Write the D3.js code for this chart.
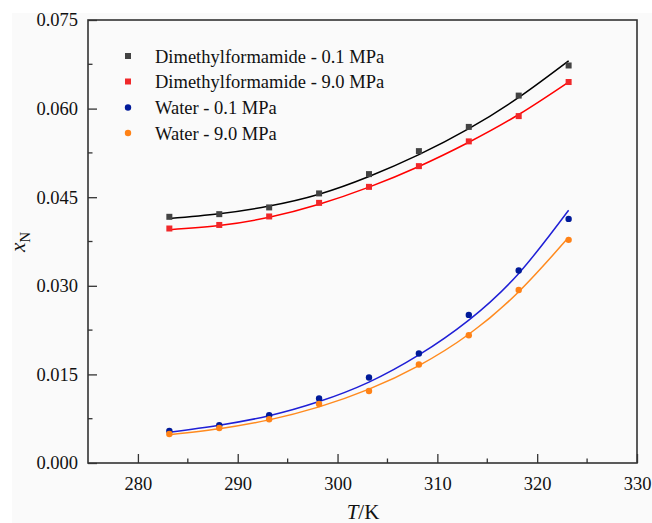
<!DOCTYPE html>
<html>
<head>
<meta charset="utf-8">
<script src="https://cdn.jsdelivr.net/npm/d3@7"></script>
<style>
  body { margin: 0; background: #ffffff; }
  svg { display: block; font-family: "Liberation Serif", "Times New Roman", serif; }
</style>
</head>
<body>
<svg id="chart" width="652" height="523"></svg>
<script>
// ---- data ----
const temperatures = [283.15, 288.15, 293.15, 298.15, 303.15, 308.15, 313.15, 318.15, 323.15];
const dmf01 = [0.04168, 0.04213, 0.04327, 0.04564, 0.04891, 0.0528, 0.0569, 0.0622, 0.0673];
const dmf90 = [0.0397, 0.0403, 0.04174, 0.04404, 0.04675, 0.05026, 0.05445, 0.05873, 0.0645];
const water01 = [0.00542, 0.00639, 0.00808, 0.01091, 0.01447, 0.01853, 0.02507, 0.0326, 0.04133];
const water90 = [0.00491, 0.00593, 0.0074, 0.0100, 0.0122, 0.01667, 0.02163, 0.0293, 0.03778];
// fitted curves
const dmf01Fit = [0.0414, 0.0422, 0.0435, 0.0455, 0.0485, 0.0522, 0.0566, 0.0619, 0.0681];
const dmf90Fit = [0.0395, 0.0402, 0.0416, 0.0438, 0.0467, 0.0502, 0.0543, 0.0590, 0.0645];
const water01Fit = [0.0052, 0.0064, 0.0080, 0.0104, 0.0137, 0.0183, 0.0242, 0.0321, 0.0428];
const water90Fit = [0.0048, 0.0058, 0.0073, 0.0095, 0.0125, 0.0165, 0.0218, 0.0290, 0.0382];
const seriesNames = ["Dimethylformamide - 0.1 MPa", "Dimethylformamide - 9.0 MPa", "Water - 0.1 MPa", "Water - 9.0 MPa"];
const xTicks = [280, 290, 300, 310, 320, 330];
const yTicks = [0.000, 0.015, 0.030, 0.045, 0.060, 0.075];

const series = [
  { name: seriesNames[0], pts: dmf01, fit: dmf01Fit, shape: "square", marker: "#434343", line: "#000000" },
  { name: seriesNames[1], pts: dmf90, fit: dmf90Fit, shape: "square", marker: "#f0282a", line: "#ff0000" },
  { name: seriesNames[2], pts: water01, fit: water01Fit, shape: "circle", marker: "#001a99", line: "#1f1fd6" },
  { name: seriesNames[3], pts: water90, fit: water90Fit, shape: "circle", marker: "#ff8216", line: "#ff8a1e" }
];

const svg = d3.select("#chart");
svg.append("rect").attr("x", 12).attr("y", 13).attr("width", 640).attr("height", 510).attr("fill", "#fafafa");

const L = 88, R = 637, T = 20, B = 463;
const x = d3.scaleLinear().domain([275, 330]).range([L, R]);
const y = d3.scaleLinear().domain([0, 0.075]).range([B, T]);

const axisColor = "#333333";

// fitted lines
const lineGen = d3.line().x((d, i) => x(temperatures[i])).y(d => y(d)).curve(d3.curveNatural);
series.forEach(s => {
  svg.append("path").attr("d", lineGen(s.fit)).attr("fill", "none")
    .attr("stroke", s.line).attr("stroke-width", 1.5);
});

// markers
function drawMarker(g, shape, color, cx, cy) {
  if (shape === "square") {
    g.append("rect").attr("x", cx - 3).attr("y", cy - 3).attr("width", 6).attr("height", 6).attr("fill", color);
  } else {
    g.append("circle").attr("cx", cx).attr("cy", cy).attr("r", 3.2).attr("fill", color);
  }
}
series.forEach(s => {
  const g = svg.append("g");
  s.pts.forEach((v, i) => drawMarker(g, s.shape, s.marker, x(temperatures[i]), y(v)));
});

// frame
svg.append("rect").attr("x", L).attr("y", T).attr("width", R - L).attr("height", B - T)
  .attr("fill", "none").attr("stroke", axisColor).attr("stroke-width", 1.6);

// x axis
const xAxis = d3.axisBottom(x).tickValues(xTicks).tickSize(-9).tickPadding(14).tickFormat(d3.format("d"));
const gx = svg.append("g").attr("transform", `translate(0,${B})`).call(xAxis);
gx.select(".domain").remove();
gx.selectAll(".tick line").attr("stroke", axisColor).attr("stroke-width", 1.3);
gx.selectAll("text").attr("font-size", 18.5).attr("fill", "#111").attr("font-family", "Liberation Serif");
const xMinor = d3.range(285, 330, 10);
svg.append("g").selectAll("line").data(xMinor).join("line")
  .attr("x1", d => x(d)).attr("x2", d => x(d)).attr("y1", B).attr("y2", B - 4.5)
  .attr("stroke", axisColor).attr("stroke-width", 1.3);

// y axis
const yAxis = d3.axisLeft(y).tickValues(yTicks).tickSize(-9).tickPadding(10).tickFormat(d3.format(".3f"));
const gy = svg.append("g").attr("transform", `translate(${L},0)`).call(yAxis);
gy.select(".domain").remove();
gy.selectAll(".tick line").attr("stroke", axisColor).attr("stroke-width", 1.3);
gy.selectAll("text").attr("font-size", 18.5).attr("fill", "#111").attr("font-family", "Liberation Serif");
const yMinor = [0.0075, 0.0225, 0.0375, 0.0525, 0.0675];
svg.append("g").selectAll("line").data(yMinor).join("line")
  .attr("x1", L).attr("x2", L + 4.5).attr("y1", d => y(d)).attr("y2", d => y(d))
  .attr("stroke", axisColor).attr("stroke-width", 1.3);

// axis titles
const xt = svg.append("text").attr("x", 363).attr("y", 519).attr("text-anchor", "middle")
  .attr("font-size", 21).attr("fill", "#111");
xt.append("tspan").attr("font-style", "italic").text("T");
xt.append("tspan").text("/K");

const yt = svg.append("text").attr("transform", "translate(25,242) rotate(-90)").attr("text-anchor", "middle")
  .attr("font-size", 21).attr("fill", "#111");
yt.append("tspan").attr("font-style", "italic").text("x");
yt.append("tspan").attr("font-size", 15).attr("dy", 5).text("N");

// legend
const legY = [56, 81.5, 107.5, 133];
series.forEach((s, i) => {
  const g = svg.append("g");
  drawMarker(g, s.shape, s.marker, 128, legY[i]);
  g.append("text").attr("x", 155).attr("y", legY[i] + 6.5).attr("font-size", 18.5).attr("fill", "#111").text(s.name);
});
</script>
</body>
</html>
